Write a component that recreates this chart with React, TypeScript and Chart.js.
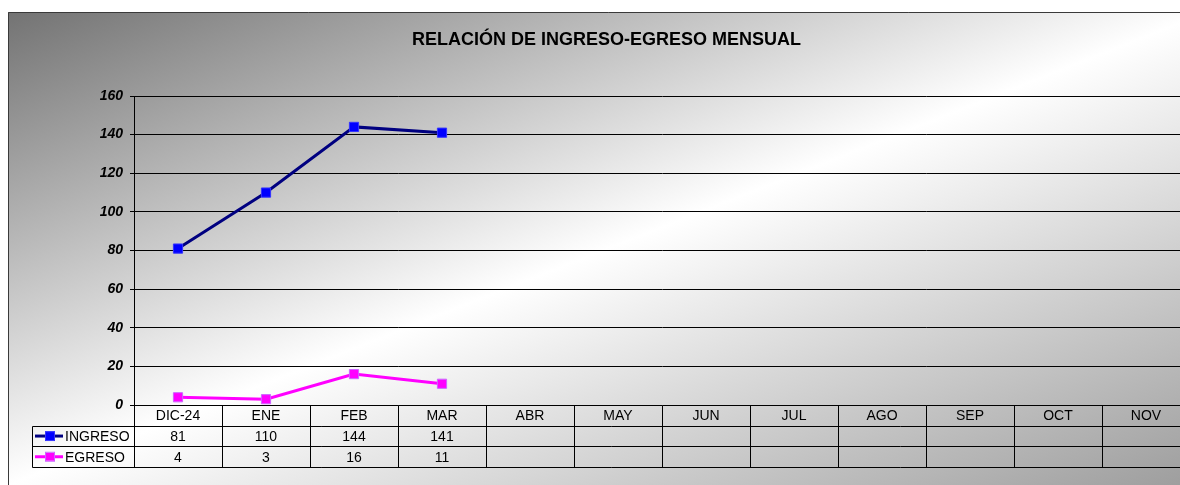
import React, { useEffect, useRef } from "react";
import { Chart, registerables } from "chart.js";

Chart.register(...registerables);

const categories = ["DIC-24", "ENE", "FEB", "MAR", "ABR", "MAY", "JUN", "JUL", "AGO", "SEP", "OCT", "NOV"];
const ingreso: (number | null)[] = [81, 110, 144, 141, null, null, null, null, null, null, null, null];
const egreso: (number | null)[] = [4, 3, 16, 11, null, null, null, null, null, null, null, null];
const yTicks = [0, 20, 40, 60, 80, 100, 120, 140, 160];
const titleText = "RELACIÓN DE INGRESO-EGRESO MENSUAL";

const FONT = "'Liberation Sans', Arial, sans-serif";
const W = 1200;
const H = 473;

const bgPlugin = {
  id: "bgFrame",
  beforeDraw(chart: any) {
    const ctx = chart.ctx;
    const w = chart.width;
    const h = chart.height;
    const L2 = w * w + h * h;
    const k = (w * h) / L2;
    const cx = w / 2, cy = h / 2;
    const g = ctx.createLinearGradient(cx - h * k, cy - w * k, cx + h * k, cy + w * k);
    g.addColorStop(0, "#737373");
    g.addColorStop(0.5, "#ffffff");
    g.addColorStop(1, "#9c9c9c");
    ctx.save();
    ctx.fillStyle = g;
    ctx.fillRect(0, 0, w, h);
    ctx.strokeStyle = "#3a3a3a";
    ctx.lineWidth = 1;
    ctx.beginPath();
    ctx.moveTo(0.5, h);
    ctx.lineTo(0.5, 0.5);
    ctx.lineTo(w, 0.5);
    ctx.stroke();
    ctx.restore();
  },
};

const tablePlugin = {
  id: "dataTable",
  afterDraw(chart: any) {
    const ctx = chart.ctx;
    const xs = chart.scales.x;
    const area = chart.chartArea;
    const n = categories.length;
    const colW = (area.right - area.left) / n;
    const rowH = 20.7;
    const top0 = area.bottom;
    const y1 = top0 + rowH;
    const y2 = top0 + 2 * rowH;
    const y3 = top0 + 3 * rowH;
    const legLeft = 24.5;
    const ax = (v: number) => Math.round(v) + 0.5;
    ctx.save();
    ctx.strokeStyle = "#000";
    ctx.lineWidth = 1;
    ctx.beginPath();
    [y1, y2, y3].forEach((y) => {
      ctx.moveTo(legLeft, ax(y));
      ctx.lineTo(area.right, ax(y));
    });
    ctx.moveTo(legLeft, ax(y1));
    ctx.lineTo(legLeft, ax(y3));
    for (let i = 0; i <= n; i++) {
      const x = ax(area.left + i * colW);
      ctx.moveTo(x, ax(top0));
      ctx.lineTo(x, ax(y3));
    }
    ctx.stroke();

    ctx.fillStyle = "#000";
    ctx.font = `14px ${FONT}`;
    ctx.textAlign = "center";
    ctx.textBaseline = "middle";
    categories.forEach((c, i) => {
      const x = xs.getPixelForValue(i);
      ctx.fillText(c, x, top0 + rowH / 2 + 1);
      const a = ingreso[i];
      const b = egreso[i];
      if (a !== null) ctx.fillText(String(a), x, y1 + rowH / 2 + 1);
      if (b !== null) ctx.fillText(String(b), x, y2 + rowH / 2 + 1);
    });

    const rows = [
      { label: "INGRESO", line: "#000080", fill: "#0000ff", border: "#3333ff", y: y1 + rowH / 2 },
      { label: "EGRESO", line: "#ff00ff", fill: "#ff00ff", border: "#cc66ff", y: y2 + rowH / 2 },
    ];
    rows.forEach((r) => {
      ctx.strokeStyle = r.line;
      ctx.lineWidth = 3;
      ctx.beginPath();
      ctx.moveTo(27, r.y);
      ctx.lineTo(55, r.y);
      ctx.stroke();
      ctx.fillStyle = r.fill;
      ctx.fillRect(38, r.y - 4, 8, 8);
      ctx.strokeStyle = r.border;
      ctx.lineWidth = 1;
      ctx.strokeRect(37.5, r.y - 4.5, 9, 9);
      ctx.fillStyle = "#000";
      ctx.textAlign = "left";
      ctx.fillText(r.label, 57, r.y + 1);
    });
    ctx.restore();
  },
};

export default function App() {
  const ref = useRef<HTMLCanvasElement | null>(null);
  useEffect(() => {
    if (!ref.current) return;
    const chart = new Chart(ref.current, {
      type: "line",
      data: {
        labels: categories,
        datasets: [
          {
            label: "INGRESO",
            data: ingreso,
            borderColor: "#000080",
            borderWidth: 3,
            backgroundColor: "#0000ff",
            pointStyle: "rect",
            pointRadius: 6.5,
            pointBorderColor: "#3333ff",
            pointBorderWidth: 1,
            pointBackgroundColor: "#0000ff",
            tension: 0,
          },
          {
            label: "EGRESO",
            data: egreso,
            borderColor: "#ff00ff",
            borderWidth: 3,
            backgroundColor: "#ff00ff",
            pointStyle: "rect",
            pointRadius: 6.5,
            pointBorderColor: "#cc66ff",
            pointBorderWidth: 1,
            pointBackgroundColor: "#ff00ff",
            tension: 0,
          },
        ],
      },
      options: {
        responsive: false,
        animation: false,
        devicePixelRatio: 1,
        layout: { padding: { left: 15, right: 18, top: 0, bottom: 80 } },
        plugins: {
          legend: { display: false },
          tooltip: { enabled: false },
          title: {
            display: true,
            text: titleText,
            color: "#000",
            font: { family: FONT, size: 18, weight: "bold" },
            padding: { top: 17, bottom: 45.4 },
          },
        },
        scales: {
          x: {
            type: "category",
            offset: true,
            grid: { display: false },
            border: { display: false },
            ticks: { display: false },
            afterFit: (s: any) => {
              s.height = 0;
            },
          },
          y: {
            min: 0,
            max: 160,
            afterBuildTicks: (s: any) => {
              s.ticks = yTicks.map((v) => ({ value: v }));
            },
            ticks: {
              color: "#000",
              padding: 7,
              font: { family: FONT, size: 14, weight: "bold", style: "italic" },
            },
            grid: { color: "#000", lineWidth: 1, tickLength: 4 },
            border: { color: "#000", width: 1 },
            afterFit: (s: any) => {
              s.width = 111;
            },
          },
        },
      },
      plugins: [bgPlugin, tablePlugin],
    } as any);
    return () => chart.destroy();
  }, []);

  return (
    <div
      style={{
        position: "fixed",
        left: 8,
        top: 12,
        width: 1172,
        height: H,
        overflow: "hidden",
      }}
    >
      <canvas ref={ref} width={W} height={H} style={{ display: "block", width: W, height: H }} />
    </div>
  );
}
